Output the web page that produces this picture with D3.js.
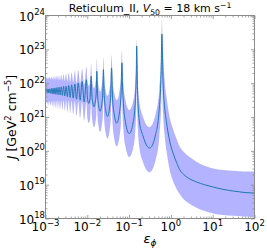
<!DOCTYPE html>
<html>
<head>
<meta charset="utf-8">
<script src="https://cdn.jsdelivr.net/npm/d3@7"></script>
<style>
  body { margin: 0; background: #fff; }
  text { font-family: "DejaVu Sans", sans-serif; fill: #000; }
</style>
</head>
<body>
<script>
// values, log10 units
const log_eps = [
    -3.000, -2.977, -2.959, -2.940, -2.921, -2.902, -2.882, -2.861, -2.840, -2.819,
    -2.797, -2.774, -2.751, -2.727, -2.702, -2.677, -2.651, -2.624, -2.596, -2.568,
    -2.538, -2.508, -2.476, -2.444, -2.410, -2.375, -2.337, -2.299, -2.258, -2.216,
    -2.170, -2.125, -2.074, -2.022, -1.993, -1.964, -1.935, -1.906, -1.893, -1.872,
    -1.839, -1.806, -1.785, -1.772, -1.756, -1.732, -1.693, -1.654, -1.630, -1.614,
    -1.595, -1.566, -1.517, -1.469, -1.439, -1.420, -1.395, -1.358, -1.295, -1.233,
    -1.195, -1.170, -1.159, -1.135, -1.082, -0.997, -0.906, -0.853, -0.829, -0.818,
    -0.800, -0.758, -0.668, -0.510, -0.366, -0.276, -0.234, -0.216, -0.187, -0.150,
    -0.106, -0.026, 0.053, 0.134, 0.213, 0.300, 0.400, 0.610, 0.800, 1.010,
    1.250, 1.500, 1.750, 2.000
];
const log_j_mid = [
    21.76, 21.82, 21.72, 21.83, 21.71, 21.83, 21.70, 21.84, 21.69, 21.85,
    21.68, 21.86, 21.67, 21.87, 21.66, 21.88, 21.65, 21.89, 21.64, 21.90,
    21.62, 21.91, 21.60, 21.93, 21.58, 21.95, 21.56, 21.97, 21.53, 22.00,
    21.50, 22.05, 21.45, 22.10, 21.52, 21.40, 21.54, 22.20, 21.71, 21.45,
    21.30, 21.48, 21.77, 22.35, 21.70, 21.37, 21.17, 21.38, 21.72, 22.40,
    21.64, 21.25, 21.02, 21.26, 21.66, 22.45, 21.55, 21.10, 20.82, 21.12,
    21.62, 22.60, 22.01, 21.39, 20.82, 20.51, 20.82, 21.44, 22.25, 23.10,
    21.90, 20.90, 20.44, 20.08, 20.48, 21.29, 22.34, 23.45, 22.00, 21.30,
    20.85, 20.27, 19.93, 19.66, 19.44, 19.31, 19.21, 19.08, 19.00, 18.93,
    18.86, 18.81, 18.77, 18.75
];
const log_j_high = [
    22.14, 22.17, 22.12, 22.18, 22.12, 22.18, 22.11, 22.19, 22.11, 22.20,
    22.10, 22.21, 22.10, 22.22, 22.09, 22.23, 22.08, 22.24, 22.08, 22.26,
    22.06, 22.28, 22.05, 22.30, 22.04, 22.32, 22.02, 22.35, 22.00, 22.38,
    21.98, 22.42, 21.95, 22.48, 22.02, 21.92, 22.03, 22.58, 22.18, 21.97,
    21.85, 22.00, 22.25, 22.73, 22.19, 21.92, 21.75, 21.93, 22.21, 22.78,
    22.14, 21.82, 21.62, 21.83, 22.16, 22.83, 22.10, 21.73, 21.50, 21.75,
    22.17, 22.98, 22.48, 21.95, 21.47, 21.20, 21.45, 21.96, 22.61, 23.30,
    22.31, 21.48, 21.01, 20.70, 21.08, 21.83, 22.81, 23.85, 22.90, 22.10,
    21.60, 20.97, 20.64, 20.36, 20.12, 19.98, 19.86, 19.68, 19.56, 19.48,
    19.43, 19.41, 19.39, 19.39
];
const log_j_low = [
    21.40, 21.46, 21.36, 21.47, 21.35, 21.47, 21.33, 21.47, 21.31, 21.48,
    21.29, 21.48, 21.27, 21.49, 21.25, 21.49, 21.23, 21.49, 21.21, 21.49,
    21.18, 21.49, 21.15, 21.48, 21.12, 21.48, 21.08, 21.47, 21.03, 21.46,
    20.98, 21.45, 20.90, 21.45, 20.93, 20.82, 20.94, 21.50, 21.06, 20.84,
    20.70, 20.84, 21.08, 21.55, 21.00, 20.73, 20.56, 20.74, 21.03, 21.60,
    20.92, 20.57, 20.36, 20.57, 20.92, 21.60, 20.79, 20.38, 20.13, 20.40,
    20.84, 21.70, 21.17, 20.61, 20.10, 19.82, 20.07, 20.57, 21.21, 21.90,
    20.94, 20.13, 19.67, 19.37, 19.72, 20.42, 21.33, 22.30, 21.10, 20.45,
    20.00, 19.42, 19.10, 18.88, 18.72, 18.58, 18.47, 18.32, 18.22, 18.15,
    18.10, 18.08, 18.06, 18.05
];

const x_tick_powers = [-3, -2, -1, 0, 1, 2];
const y_tick_powers = [18, 19, 20, 21, 22, 23, 24];

const plot = {left: 45.5, right: 254.5, top: 15.5, bottom: 218.5};

function get_svg() {
    return d3.select("body").append("svg")
        .attr("width", 267)
        .attr("height", 250);
}

function get_scales() {
    const x = d3.scaleLog().domain([1e-3, 1e2]).range([plot.left, plot.right]);
    const y = d3.scaleLog().domain([1e18, 1e24]).range([plot.bottom, plot.top]);
    return [x, y];
}

function minor_ticks(powers) {
    const out = [];
    for (let i = 0; i < powers.length - 1; i++) {
        for (let k = 2; k < 10; k++) out.push(k * Math.pow(10, powers[i]));
    }
    return out;
}

function draw_band_and_line(svg, x, y) {
    const points = log_eps.map((e, i) => ({
        eps: Math.pow(10, e),
        mid: Math.pow(10, log_j_mid[i]),
        high: Math.pow(10, log_j_high[i]),
        low: Math.pow(10, log_j_low[i])
    }));

    svg.append("clipPath").attr("id", "clip")
        .append("rect")
        .attr("x", plot.left).attr("y", plot.top)
        .attr("width", plot.right - plot.left)
        .attr("height", plot.bottom - plot.top);

    const g = svg.append("g").attr("clip-path", "url(#clip)");

    g.append("path")
        .datum(points)
        .attr("fill", "#b3b3ff")
        .attr("d", d3.area()
            .x(d => x(d.eps))
            .y0(d => y(d.low))
            .y1(d => y(d.high))
            .curve(d3.curveMonotoneX));

    g.append("path")
        .datum(points)
        .attr("fill", "none")
        .attr("stroke", "#1f77b4")
        .attr("stroke-width", 1)
        .attr("d", d3.line()
            .x(d => x(d.eps))
            .y(d => y(d.mid))
            .curve(d3.curveMonotoneX));
}

function draw_axes(svg, x, y) {
    const x_major = x_tick_powers.map(p => Math.pow(10, p));
    const y_major = y_tick_powers.map(p => Math.pow(10, p));
    const x_minor = minor_ticks(x_tick_powers);
    const y_minor = minor_ticks(y_tick_powers);

    const axes = [
        [d3.axisBottom(x), `translate(0,${plot.bottom})`, x_major, x_minor],
        [d3.axisTop(x), `translate(0,${plot.top})`, x_major, x_minor],
        [d3.axisLeft(y), `translate(${plot.left},0)`, y_major, y_minor],
        [d3.axisRight(y), `translate(${plot.right},0)`, y_major, y_minor]
    ];

    axes.forEach(([axis, tr, major, minor]) => {
        [[major, 3.5], [minor, 2]].forEach(([vals, len]) => {
            const a = svg.append("g")
                .attr("transform", tr)
                .call(axis.tickValues(vals).tickSize(-len).tickFormat(""));
            a.select(".domain").remove();
            a.selectAll("line").attr("stroke", "#8c8c8c").attr("stroke-width", 0.8);
        });
    });

    svg.append("rect")
        .attr("x", plot.left).attr("y", plot.top)
        .attr("width", plot.right - plot.left)
        .attr("height", plot.bottom - plot.top)
        .attr("fill", "none")
        .attr("stroke", "#8c8c8c")
        .attr("stroke-width", 1);

    // tick labels 10^n
    x_tick_powers.forEach(p => {
        const t = svg.append("text")
            .attr("x", x(Math.pow(10, p)))
            .attr("y", 231)
            .attr("text-anchor", "middle")
            .style("font-size", "12px")
            .text("10");
        t.append("tspan").attr("dy", -5.5).style("font-size", "8.5px")
            .text(String(p).replace("-", "\u2212"));
    });

    y_tick_powers.forEach(p => {
        const t = svg.append("text")
            .attr("x", 45)
            .attr("y", y(Math.pow(10, p)) + 5)
            .attr("text-anchor", "end")
            .style("font-size", "12px")
            .text("10");
        t.append("tspan").attr("dy", -5.5).style("font-size", "8.5px")
            .text(String(p));
    });
}

function add_labels(svg) {
    const cx = (plot.left + plot.right) / 2;

    const title = svg.append("text")
        .attr("x", cx).attr("y", 12)
        .attr("text-anchor", "middle")
        .style("font-size", "11px")
        .text("Reticulum_II, ");
    title.append("tspan").style("font-style", "italic").text("V");
    title.append("tspan").attr("dy", 2.5).style("font-size", "7.7px").text("50");
    title.append("tspan").attr("dy", -2.5).text(" = 18 km s");
    title.append("tspan").attr("dy", -4.5).style("font-size", "7.7px").text("\u22121");

    const xl = svg.append("text")
        .attr("x", cx).attr("y", 243)
        .attr("text-anchor", "middle")
        .style("font-size", "13px")
        .style("font-style", "italic")
        .text("\u03b5");
    xl.append("tspan").attr("dy", 3).style("font-size", "9px").text("\u03d5");

    const yl = svg.append("text")
        .attr("transform", `translate(16,${(plot.top + plot.bottom) / 2}) rotate(-90)`)
        .attr("text-anchor", "middle")
        .style("font-size", "12.5px");
    yl.append("tspan").style("font-style", "italic").text("J");
    yl.append("tspan").text(" [GeV");
    yl.append("tspan").attr("dy", -5).style("font-size", "8.5px").text("2");
    yl.append("tspan").attr("dy", 5).text(" cm");
    yl.append("tspan").attr("dy", -5).style("font-size", "8.5px").text("\u22125");
    yl.append("tspan").attr("dy", 5).text("]");
}

const svg = get_svg();
const [x, y] = get_scales();
draw_band_and_line(svg, x, y);
draw_axes(svg, x, y);
add_labels(svg);
</script>
</body>
</html>
